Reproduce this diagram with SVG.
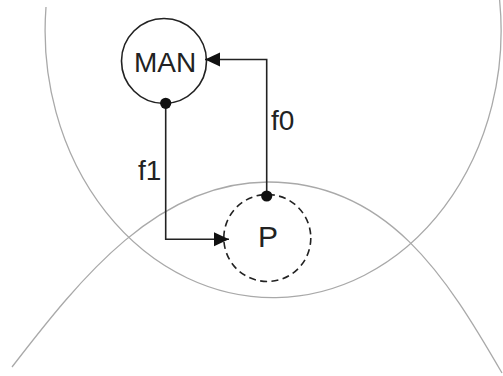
<svg xmlns="http://www.w3.org/2000/svg" width="503" height="376" viewBox="0 0 503 376">
  <style>
    .bg { fill: none; stroke: #a9a9a9; stroke-width: 1.3; }
    .node { fill: none; stroke: #222; stroke-width: 1.6; }
    .dashed { stroke-dasharray: 7 4.4; }
    .conn { fill: none; stroke: #222; stroke-width: 1.6; }
    .lbl { font-family: "Liberation Sans", Arial, sans-serif; fill: #222; }
  </style>
  <defs>
    <marker id="arrow" markerUnits="userSpaceOnUse" markerWidth="16" markerHeight="15" refX="15" refY="7" orient="auto">
      <path d="M0,0 L15,7 L0,14 z" fill="#111"/>
    </marker>
    <marker id="dot" markerUnits="userSpaceOnUse" markerWidth="13" markerHeight="13" refX="6.5" refY="6.5" orient="auto">
      <circle cx="6.5" cy="6.5" r="5.6" fill="#111"/>
    </marker>
  </defs>
  <g id="regions">
    <path class="bg" d="M 46 7 A 228 267 0 1 0 499.6 0"/>
    <path class="bg" d="M 12 367 C 82 276 158 182 268 182 C 388 182 447 278 502 373"/>
  </g>
  <g id="node-MAN">
    <circle class="node" cx="164" cy="61" r="42.5"/>
    <text class="lbl" x="165" y="71.5" font-size="28" text-anchor="middle">MAN</text>
  </g>
  <g id="node-P">
    <circle class="node dashed" cx="267.3" cy="238" r="43.5"/>
    <text class="lbl" x="268" y="246.5" font-size="30" text-anchor="middle">P</text>
  </g>
  <g id="connectors">
    <path class="conn" d="M 266.7 196 V 59.5 H 205" marker-start="url(#dot)" marker-end="url(#arrow)"/>
    <path class="conn" d="M 165.7 103.3 V 239.3 H 229" marker-start="url(#dot)" marker-end="url(#arrow)"/>
    <text class="lbl" x="271" y="130" font-size="28">f0</text>
    <text class="lbl" x="138" y="180" font-size="28">f1</text>
  </g>
</svg>
